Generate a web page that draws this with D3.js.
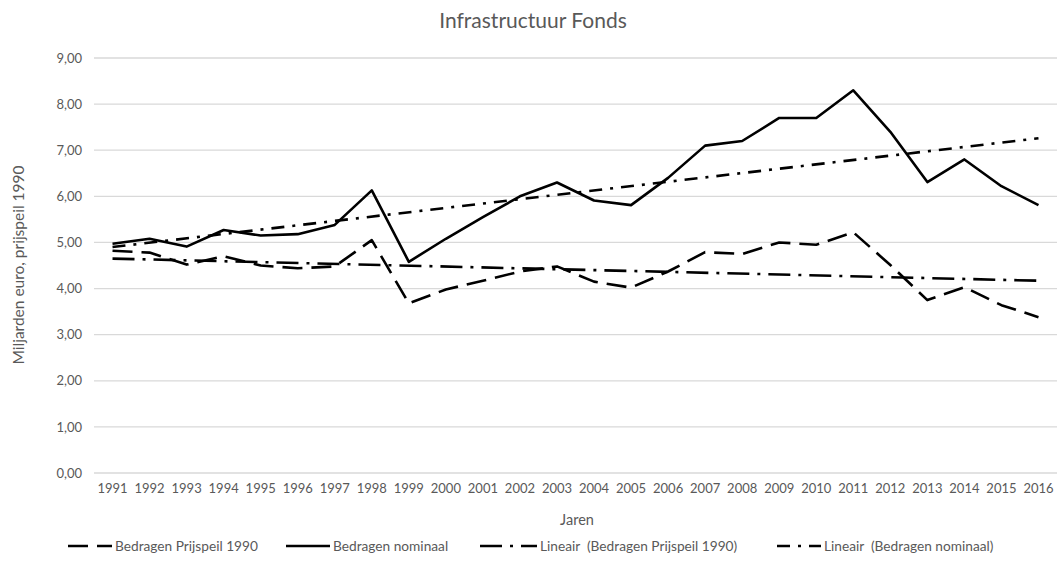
<!DOCTYPE html>
<html>
<head>
<meta charset="utf-8">
<script src="https://cdn.jsdelivr.net/npm/d3@7"></script>
<style>
  body { margin: 0; background: #fff; }
  text { font-family: Lato, "Open Sans", sans-serif; fill: #595959; }
</style>
</head>
<body>
<script>
var years = ['1991','1992','1993','1994','1995','1996','1997','1998','1999','2000','2001','2002','2003',
             '2004','2005','2006','2007','2008','2009','2010','2011','2012','2013','2014','2015','2016'];
var prijspeil = [4.82, 4.78, 4.52, 4.70, 4.50, 4.44, 4.48, 5.05, 3.68, 3.98, 4.17, 4.37, 4.48,
                 4.15, 4.02, 4.37, 4.79, 4.75, 5.00, 4.95, 5.22, 4.51, 3.75, 4.03, 3.64, 3.38];
var nominaal = [4.97, 5.08, 4.91, 5.27, 5.15, 5.18, 5.38, 6.13, 4.58, 5.08, 5.55, 6.00, 6.30,
                5.91, 5.81, 6.40, 7.10, 7.20, 7.70, 7.70, 8.30, 7.40, 6.31, 6.80, 6.22, 5.81];
// trend lines read at first and last year
var trendPrijspeil = [4.65, 4.17];
var trendNominaal = [4.90, 7.26];
var yTicks = [0, 1, 2, 3, 4, 5, 6, 7, 8, 9];

var width = 1059, height = 576;

var svg = d3.select("body").append("svg")
    .attr("width", width)
    .attr("height", height);

var x = d3.scaleBand().domain(years).range([94, 1057]);
var y = d3.scaleLinear().domain([0, 9]).range([473, 58]);
var cx = function(yr) { return x(yr) + x.bandwidth() / 2; };

// gridlines
svg.append("g").selectAll("line")
    .data(yTicks)
    .enter().append("line")
    .attr("x1", x.range()[0]).attr("x2", x.range()[1])
    .attr("y1", function(d) { return y(d); })
    .attr("y2", function(d) { return y(d); })
    .attr("stroke", "#d9d9d9")
    .attr("stroke-width", 1.3);

// y tick labels
var fmt = function(d) { return d3.format(".2f")(d).replace(".", ","); };
var yAxis = d3.axisLeft(y).tickValues(yTicks).tickFormat(fmt).tickSize(0).tickPadding(12);
svg.append("g")
    .attr("transform", "translate(" + x.range()[0] + ",0)")
    .call(yAxis)
    .call(function(g) { g.select(".domain").remove(); })
    .selectAll("text")
    .style("font-family", "Lato, sans-serif")
    .style("font-size", "13px")
    .attr("fill", "#595959");

// x tick labels
var xAxis = d3.axisBottom(x).tickSize(0).tickPadding(11);
svg.append("g")
    .attr("transform", "translate(0," + y(0) + ")")
    .call(xAxis)
    .call(function(g) { g.select(".domain").remove(); })
    .selectAll("text")
    .style("font-family", "Lato, sans-serif")
    .style("font-size", "13px")
    .attr("fill", "#595959");

var line = d3.line()
    .x(function(d) { return cx(d[0]); })
    .y(function(d) { return y(d[1]); });

var styles = {
  prijs: "20,9",
  nom: null,
  trendPrijs: "22,8,3,8",
  trendNom: "13,8,3,8"
};

function drawLine(pts, dash) {
  svg.append("path")
      .attr("d", line(pts))
      .attr("fill", "none")
      .attr("stroke", "#000")
      .attr("stroke-width", 2.6)
      .attr("stroke-dasharray", dash)
      .attr("stroke-linejoin", "round");
}

drawLine(years.map(function(yr, i) { return [yr, prijspeil[i]]; }), styles.prijs);
drawLine(years.map(function(yr, i) { return [yr, nominaal[i]]; }), styles.nom);
drawLine([[years[0], trendPrijspeil[0]], [years[years.length - 1], trendPrijspeil[1]]], styles.trendPrijs);
drawLine([[years[0], trendNominaal[0]], [years[years.length - 1], trendNominaal[1]]], styles.trendNom);

// title
svg.append("text")
    .attr("x", 533).attr("y", 28)
    .attr("text-anchor", "middle")
    .style("font-size", "21px")
    .text("Infrastructuur Fonds");

// axis titles
svg.append("text")
    .attr("transform", "translate(24,265) rotate(-90)")
    .attr("text-anchor", "middle")
    .style("font-size", "15.5px")
    .text("Miljarden euro, prijspeil 1990");

svg.append("text")
    .attr("x", 577).attr("y", 525)
    .attr("text-anchor", "middle")
    .style("font-size", "14.5px")
    .text("Jaren");

// legend
var legendItems = [
  { label: "Bedragen Prijspeil 1990", dash: styles.prijs, x: 68 },
  { label: "Bedragen nominaal", dash: styles.nom, x: 286 },
  { label: "Lineair  (Bedragen Prijspeil 1990)", dash: styles.trendPrijs, x: 480 },
  { label: "Lineair  (Bedragen nominaal)", dash: styles.trendNom, x: 777 }
];
var lg = svg.append("g").selectAll("g")
    .data(legendItems)
    .enter().append("g")
    .attr("transform", function(d) { return "translate(" + d.x + ",546)"; });
lg.append("line")
    .attr("x1", 0).attr("x2", function(d, i) { return i === 2 ? 57 : 44; })
    .attr("y1", 0).attr("y2", 0)
    .attr("stroke", "#000")
    .attr("stroke-width", 2.6)
    .attr("stroke-dasharray", function(d) { return d.dash; });
lg.append("text")
    .attr("x", function(d, i) { return i === 2 ? 60 : 47; })
    .attr("y", 5)
    .style("font-size", "13.7px")
    .style("white-space", "pre")
    .attr("xml:space", "preserve")
    .text(function(d) { return d.label; });
</script>
</body>
</html>
